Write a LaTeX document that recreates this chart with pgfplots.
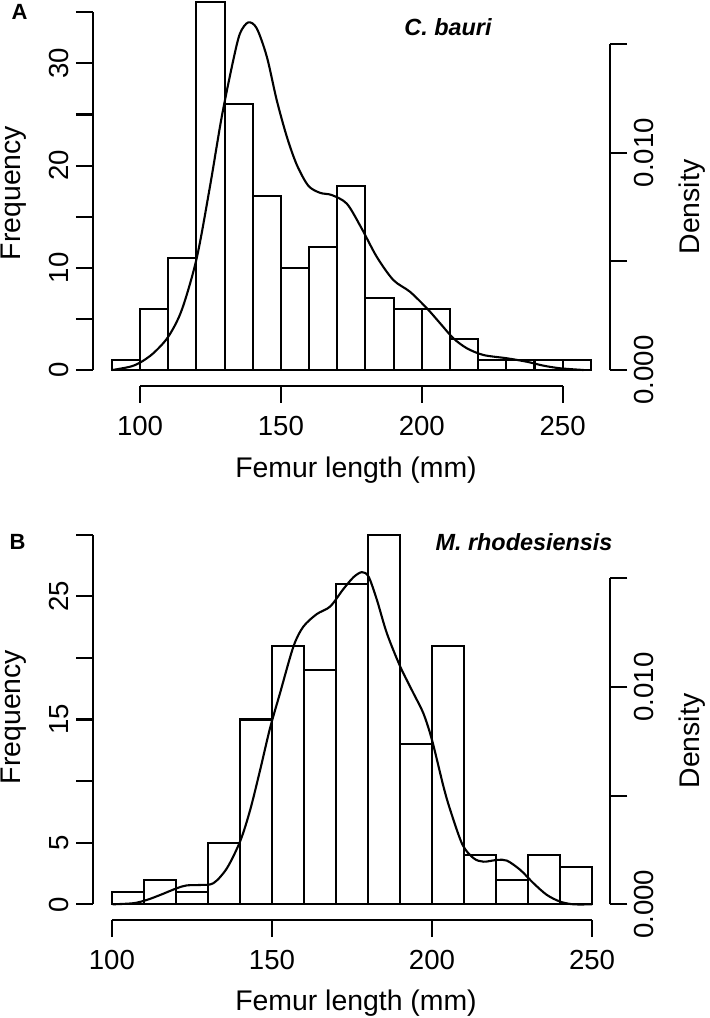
\documentclass[border=0pt]{standalone}
\usepackage{pgfplots}
\pgfplotsset{compat=1.18}
\usepackage{fontspec}
\setmainfont{Liberation Sans}

% R-like histogram axes: lines drawn by hand, ticks outside
\pgfplotsset{
  rhist/.style={
    scale only axis, clip=false,
    anchor=north west, width=258.5pt,
    axis line style={draw=none},
    tick align=outside, major tick length=8.5pt,
    tick style={black, line width=1.05pt},
    every tick label/.append style={font=\fontsize{13.8}{16}\selectfont},
    xticklabel style={yshift=-3pt},
    /pgf/number format/assume math mode=true,
  },
}
\newcommand{\lab}{\fontsize{14.2}{17}\selectfont}

\begin{document}
\begin{tikzpicture}
\path[use as bounding box] (0,0) rectangle (354.5pt,-509pt);

% ---------- panel A: C. bauri ----------
\begin{axis}[rhist, at={(46.5pt,0pt)}, height=192.85pt,
  xmin=83.3, xmax=266.8, ymin=-1.54, ymax=36.2,
  axis x line*=bottom, axis y line*=left,
  xtick={100,150,200,250}, xticklabels={100,150,200,250},
  ytick={0,5,...,35}, yticklabels={0,,10,,20,,30,},
  yticklabel style={rotate=90, anchor=south},
]
\addplot[ybar interval, fill=white, draw=black, line width=1.05pt] coordinates {
  (90,1) (100,6) (110,11) (120,36) (130,26) (140,17) (150,10) (160,12)
  (170,18) (180,7) (190,6) (200,6) (210,3) (220,1) (230,1) (240,1)
  (250,1) (260,1)};
\draw[line width=1.05pt] (axis cs:100,-1.54) -- (axis cs:250,-1.54);
\draw[line width=1.05pt] (axis cs:83.3,0) -- (axis cs:83.3,35);
\end{axis}

\begin{axis}[rhist, at={(46.5pt,0pt)}, height=192.85pt,
  xmin=83.3, xmax=266.8, ymin=-0.000722, ymax=0.01702,
  hide x axis, axis y line*=right,
  ytick={0,0.005,0.01,0.015}, yticklabels={0.000,,0.010,},
  scaled y ticks=false,
  yticklabel style={rotate=90, anchor=north},
]
\addplot[smooth, line width=1.05pt] coordinates {
  (90.2,0) (96.4,0.00015) (100,0.00034) (104.7,0.00077) (110,0.00153)
  (114.8,0.00276) (120.1,0.00514) (124.8,0.00843) (129,0.01165)
  (133.1,0.01426) (135.5,0.01549) (138.4,0.01599) (141.4,0.01572)
  (145,0.01441) (148.5,0.01242) (152.1,0.01073) (155.6,0.00945)
  (159.7,0.00848) (163.9,0.00815) (168,0.00805) (173.4,0.00765)
  (178.5,0.00655) (184,0.00521) (189.9,0.00414) (195.8,0.0036)
  (201.8,0.00284) (206.5,0.00215) (211.2,0.00146) (216,0.001)
  (221.9,0.00069) (230.2,0.00054) (237.3,0.00038) (243.2,0.0002)
  (249.1,0.00008) (257.4,0)};
\draw[line width=1.05pt] (axis cs:266.8,0) -- (axis cs:266.8,0.015);
\end{axis}

% ---------- panel B: M. rhodesiensis ----------
\begin{axis}[rhist, at={(46.65pt,-248.25pt)}, height=211.75pt,
  xmin=94.2, xmax=255.7, ymin=-1.27, ymax=33.1,
  axis x line*=bottom, axis y line*=left,
  xtick={100,150,200,250}, xticklabels={100,150,200,250},
  ytick={0,5,...,30}, yticklabels={0,5,,15,,25,},
  yticklabel style={rotate=90, anchor=south},
]
\addplot[ybar interval, fill=white, draw=black, line width=1.05pt] coordinates {
  (100,1) (110,2) (120,1) (130,5) (140,15) (150,21) (160,19) (170,26)
  (180,30) (190,13) (200,21) (210,4) (220,2) (230,4) (240,3) (250,3)};
\draw[line width=1.05pt] (axis cs:100,-1.27) -- (axis cs:250,-1.27);
\draw[line width=1.05pt] (axis cs:94.2,0) -- (axis cs:94.2,30);
\end{axis}

\begin{axis}[rhist, at={(46.65pt,-248.25pt)}, height=211.75pt,
  xmin=94.2, xmax=255.7, ymin=-0.000722, ymax=0.01876,
  hide x axis, axis y line*=right,
  ytick={0,0.005,0.01,0.015}, yticklabels={0.000,,0.010,},
  scaled y ticks=false,
  yticklabel style={rotate=90, anchor=north},
]
\addplot[smooth, line width=1.05pt] coordinates {
  (100.2,0) (106.7,0.00005) (110.9,0.0002) (115.1,0.00043) (120.3,0.00074)
  (123.4,0.00087) (127.6,0.00089) (131.7,0.00097) (135.9,0.00165)
  (140.1,0.00291) (143.2,0.00434) (146.3,0.00617) (149.4,0.0081)
  (152.5,0.0097) (156.7,0.01185) (159.8,0.01277) (164,0.01335)
  (168.2,0.0137) (172.3,0.0145) (175.5,0.01505) (178.1,0.01528)
  (180.2,0.01507) (182.8,0.014) (185.9,0.01247) (190.1,0.01093)
  (194.2,0.00971) (197.3,0.00879) (200,0.00756) (203.6,0.00541)
  (205.7,0.00434) (209.5,0.00275) (213,0.00212) (216.1,0.00196)
  (220.3,0.00204) (223.4,0.00201) (227.6,0.00158) (231.7,0.00097)
  (235.9,0.00043) (240.1,0.00012) (244.2,0) (250,0)};
\draw[line width=1.05pt] (axis cs:255.7,0) -- (axis cs:255.7,0.015);
\end{axis}

% ---------- titles and axis names ----------
\begin{scope}[x=0.5pt, y=-0.5pt]
\node[font=\bfseries\fontsize{11}{13}\selectfont] at (19.5,12) {A};
\node[font=\bfseries\itshape\fontsize{11.7}{14}\selectfont] at (448,27) {C. bauri};
\node[font=\lab, rotate=90, inner sep=0pt] at (14,193) {Frequency};
\node[font=\lab, rotate=90, inner sep=0pt] at (692,207) {Density};
\node[font=\lab, anchor=base] at (356,477) {Femur length (mm)};

\node[font=\bfseries\fontsize{11}{13}\selectfont] at (17.5,541.5) {B};
\node[font=\bfseries\itshape\fontsize{11.7}{14}\selectfont] at (524,541.7) {M. rhodesiensis};
\node[font=\lab, rotate=90, inner sep=0pt] at (14,717) {Frequency};
\node[font=\lab, rotate=90, inner sep=0pt] at (692,741) {Density};
\node[font=\lab, anchor=base] at (356,1010) {Femur length (mm)};
\end{scope}
\end{tikzpicture}
\end{document}
